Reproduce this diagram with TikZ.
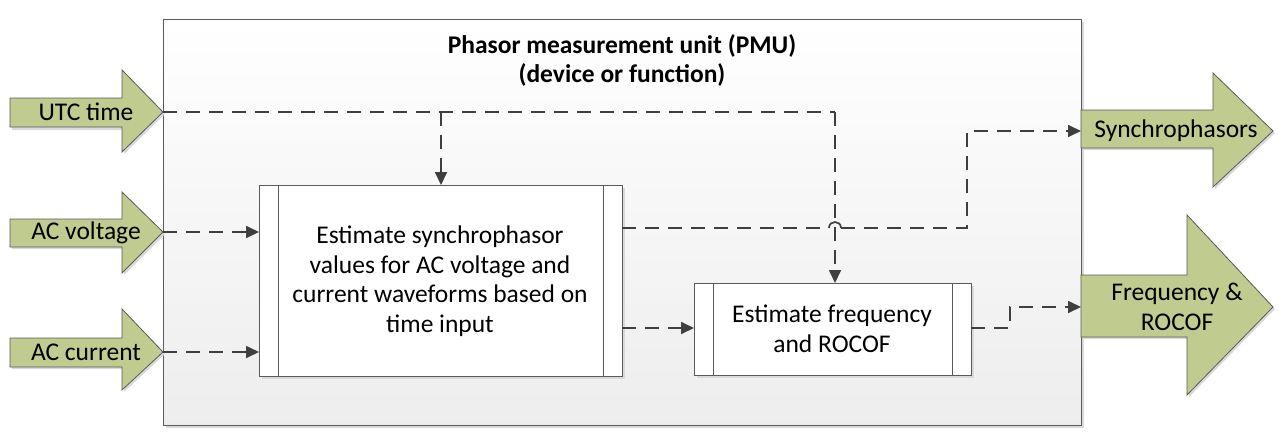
\documentclass[tikz,border=0pt]{standalone}
\usepackage{fontspec}
\setmainfont{Carlito}
\usetikzlibrary{arrows.meta}
\definecolor{arrowgreen}{HTML}{BFCB8F}
\definecolor{edgegray}{HTML}{5A5A5A}
\definecolor{lnk}{HTML}{3F3F3F}
\definecolor{shadowgray}{HTML}{D9D9D9}
\begin{document}
\begin{tikzpicture}[x=1pt,y=-1pt,
  bigarrow/.style={draw=edgegray,line width=0.8pt,fill=arrowgreen,line join=miter},
  procbox/.style={draw=edgegray,line width=0.8pt,fill=white},
  lbl/.style={inner sep=0pt,align=center,font=\fontsize{25.5}{29.5}\selectfont},
  link/.style={draw=lnk,line width=1.7pt,dash pattern=on 14pt off 9pt},
  linkarrow/.style={link,-{Triangle[length=13pt,width=12pt]}}
]
\useasboundingbox (0,0) rectangle (1279,439);
% main PMU box
\fill[shadowgray] (166,22) rectangle (1084,428);
\shade[top color=white,bottom color=black!7,draw=edgegray,line width=0.8pt] (163,19) rectangle (1081,425);
\node[lbl,font=\bfseries\fontsize{25.5}{29}\selectfont] (title) at (622,60) {Phasor measurement unit (PMU)\\(device or function)};

% input arrows
\fill[shadowgray] (12,100) -- (124,100) -- (124,72) -- (165,114) -- (124,154) -- (124,130) -- (12,130) -- cycle;
\draw[bigarrow] (10,98) -- (122,98) -- (122,70) -- (163,112) -- (122,152) -- (122,127) -- (10,127) -- cycle;
\fill[shadowgray] (12,221) -- (124,221) -- (124,194) -- (165,234) -- (124,275) -- (124,249) -- (12,249) -- cycle;
\draw[bigarrow] (10,219) -- (122,219) -- (122,192) -- (163,232) -- (122,273) -- (122,247) -- (10,247) -- cycle;
\fill[shadowgray] (12,340) -- (124,340) -- (124,311) -- (165,354) -- (124,392) -- (124,369) -- (12,369) -- cycle;
\draw[bigarrow] (10,338) -- (122,338) -- (122,309) -- (163,352) -- (122,390) -- (122,367) -- (10,367) -- cycle;
\node[lbl] (utc) at (86,112) {UTC time};
\node[lbl] (acv) at (86,233) {AC voltage};
\node[lbl] (aci) at (86,352) {AC current};
\coordinate (utctip) at (163,112);
\coordinate (acvtip) at (163,232);
\coordinate (acitip) at (163,352);

% output arrows
\fill[shadowgray] (1083,112) -- (1215,112) -- (1215,75) -- (1275,133) -- (1215,189) -- (1215,150) -- (1083,150) -- cycle;
\draw[bigarrow] (1081,110) -- (1213,110) -- (1213,73) -- (1273,131) -- (1213,187) -- (1213,148) -- (1081,148) -- cycle;
\fill[shadowgray] (1083,277) -- (1189,277) -- (1189,217) -- (1275,309) -- (1189,397) -- (1189,339) -- (1083,339) -- cycle;
\draw[bigarrow] (1081,275) -- (1187,275) -- (1187,215) -- (1273,307) -- (1187,395) -- (1187,337) -- (1081,337) -- cycle;
\node[lbl] (sync) at (1176,131) {Synchrophasors};
\node[lbl] (freq) at (1177,307) {Frequency \&\\ROCOF};
\coordinate (syncin) at (1081,131);
\coordinate (freqin) at (1081,307);

% process boxes
\fill[shadowgray] (262,188) rectangle (625,379);
\draw[procbox] (259,185) rectangle (622,376);
\draw[edgegray,line width=0.8pt] (278,185) -- (278,376) (603,185) -- (603,376);
\node[lbl] (est1) at (440,281) {Estimate synchrophasor\\values for AC voltage and\\current waveforms based on\\time input};
\coordinate (b1w) at (259,232);
\coordinate (b1wl) at (259,352);
\coordinate (b1n) at (441,185);
\coordinate (b1e) at (622,228);
\coordinate (b1el) at (622,328);

\fill[shadowgray] (697,286) rectangle (974,378);
\draw[procbox] (694,283) rectangle (971,375);
\draw[edgegray,line width=0.8pt] (713,283) -- (713,375) (952,283) -- (952,375);
\node[lbl] (est2) at (832,329) {Estimate frequency\\and ROCOF};
\coordinate (b2w) at (694,328);
\coordinate (b2n) at (835,283);
\coordinate (b2e) at (971,328);
\coordinate (hopa) at (829,228);
\coordinate (hopb) at (841,228);

% connectors
\draw[link] (utctip) -- (835,112);
\draw[linkarrow] (835,112) -- (b2n);
\draw[linkarrow] (441,112) -- (b1n);
\draw[linkarrow] (acvtip) -- (b1w);
\draw[linkarrow] (acitip) -- (b1wl);
\draw[linkarrow] (b1el) -- (b2w);
\draw[link] (b1e) -- (hopa);
\draw[draw=lnk,line width=1.7pt] (hopa) .. controls (829,220) and (841,220) .. (hopb);
\draw[linkarrow] (hopb) -- (967,228) -- (967,131) -- (syncin);
\draw[linkarrow] (b2e) -- (1010,328) -- (1010,307) -- (freqin);
\end{tikzpicture}
\end{document}
